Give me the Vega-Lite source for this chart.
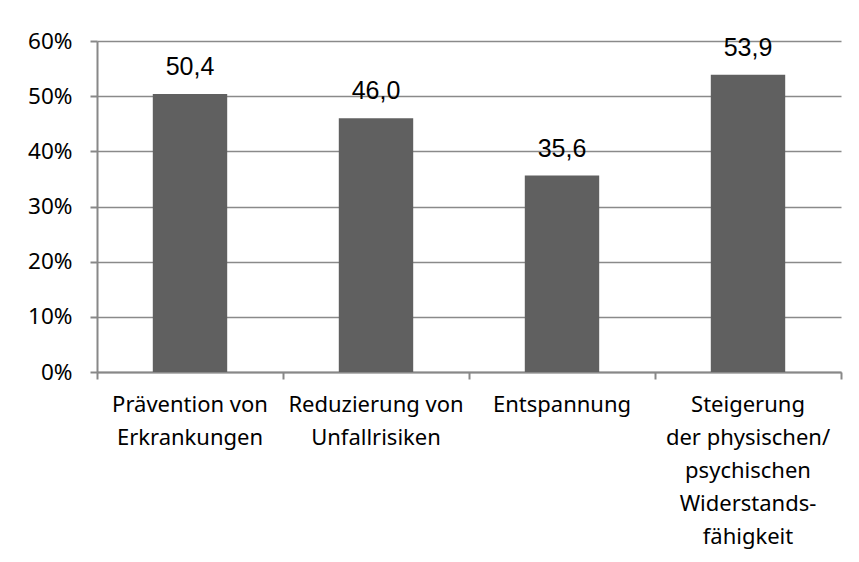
{
  "$schema": "https://vega.github.io/schema/vega-lite/v6.json",
  "autosize": {"type": "none"},
  "width": 744,
  "height": 331,
  "padding": {"left": 97, "top": 41, "right": 18, "bottom": 190},
  "background": "white",
  "config": {
    "view": {"stroke": null},
    "locale": {"number": {"decimal": ",", "thousands": ".", "grouping": [3], "currency": ["", " €"]}}
  },
  "data": {
    "values": [
      {"kategorie": "Prävention von|Erkrankungen", "wert": 50.4},
      {"kategorie": "Reduzierung von|Unfallrisiken", "wert": 46.0},
      {"kategorie": "Entspannung", "wert": 35.6},
      {"kategorie": "Steigerung|der physischen/|psychischen|Widerstands-|fähigkeit", "wert": 53.9}
    ]
  },
  "encoding": {
    "x": {
      "field": "kategorie",
      "type": "nominal",
      "sort": null,
      "scale": {"paddingInner": 0, "paddingOuter": 0},
      "axis": {
        "title": null,
        "labelAngle": 0,
        "labelExpr": "split(datum.label, '|')",
        "labelFont": "Noto Sans",
        "labelFontSize": 22,
        "labelColor": "#000000",
        "labelLineHeight": 33,
        "labelPadding": 15,
        "labelLimit": 300,
        "bandPosition": 1,
        "tickExtra": true,
        "tickSize": 7,
        "tickColor": "#888888",
        "tickWidth": 2,
        "domainColor": "#888888",
        "domainWidth": 2,
        "grid": false
      }
    },
    "y": {
      "field": "wert",
      "type": "quantitative",
      "scale": {"domain": [0, 60]},
      "axis": {
        "title": null,
        "values": [0, 10, 20, 30, 40, 50, 60],
        "labelExpr": "datum.value + '%'",
        "labelFont": "Noto Sans",
        "labelFontSize": 22.5,
        "labelColor": "#000000",
        "labelPadding": 18,
        "tickSize": 7,
        "tickColor": "#888888",
        "tickWidth": 2,
        "domainColor": "#888888",
        "domainWidth": 2,
        "grid": true,
        "gridColor": "#8a8a8a",
        "gridWidth": 1.5
      }
    }
  },
  "layer": [
    {
      "mark": {"type": "bar", "width": {"band": 0.4}, "color": "#606060"}
    },
    {
      "mark": {"type": "text", "baseline": "alphabetic", "dy": -19, "font": "Liberation Sans", "fontSize": 25, "color": "#000000"},
      "encoding": {
        "text": {"field": "wert", "type": "quantitative", "format": ".1f"}
      }
    }
  ]
}
